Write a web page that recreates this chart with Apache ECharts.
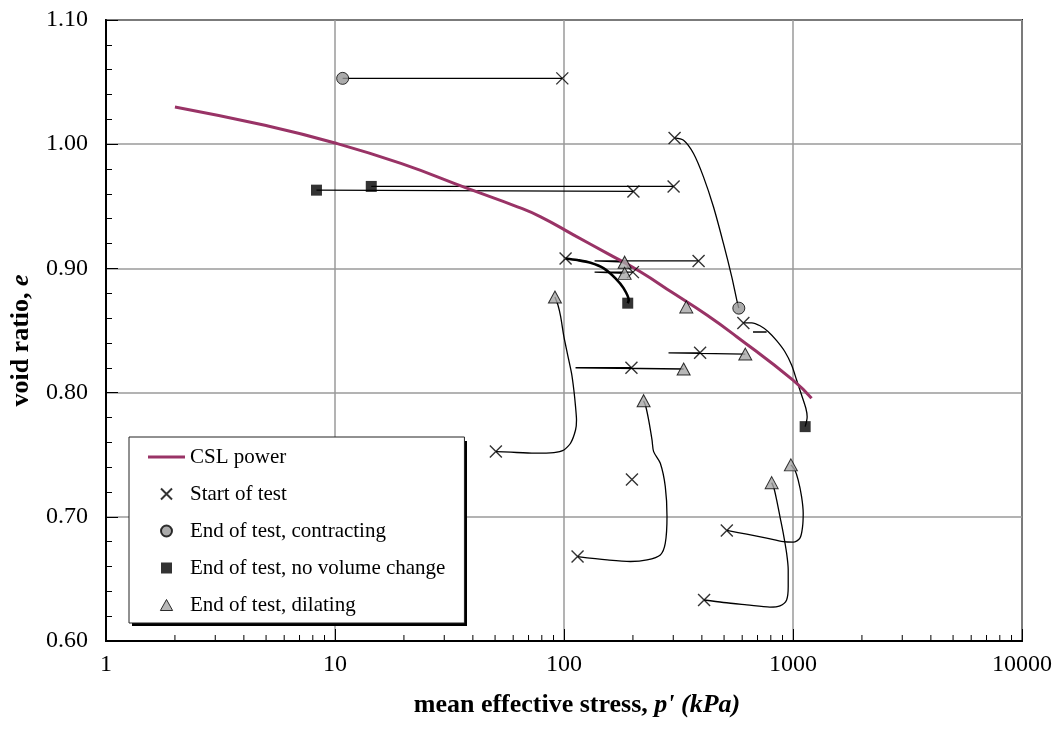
<!DOCTYPE html>
<html>
<head>
<meta charset="utf-8">
<script src="https://cdn.jsdelivr.net/npm/echarts@6/dist/echarts.min.js"></script>
<style>
  html, body { margin: 0; padding: 0; background: #fff; }
  #chart { width: 1058px; height: 736px; }
</style>
</head>
<body>
<div id="chart"></div>
<script>
// Critical state line (power fit): mean effective stress p' (kPa) and void ratio e
const cslP = [2, 5, 10, 19.4, 37.9, 62.6, 79.1, 110.5, 154.5, 215.4, 300.8, 420.6, 568, 1000, 1205];
const cslE = [1.030, 1.015, 1.001, 0.9845, 0.9644, 0.9496, 0.9415, 0.9268, 0.9121, 0.8973, 0.8799, 0.8624, 0.845, 0.810, 0.7954];

// Test start states [p', e]
const startOfTest = [
  [98.3, 1.053], [201, 0.962], [301, 0.966], [304, 1.005], [101.6, 0.908],
  [387, 0.906], [200, 0.897], [607, 0.856], [393, 0.832], [197, 0.820],
  [50.4, 0.7525], [114.6, 0.668], [198, 0.730], [514, 0.689], [409, 0.633]
];
// Test end states [p', e]
const endContracting = [[10.8, 1.053], [580, 0.868]];
const endNoVolumeChange = [[8.3, 0.963], [14.4, 0.966], [189.8, 0.872], [1130, 0.7726]];
const endDilating = [
  [184, 0.905], [184, 0.896], [342, 0.869], [619, 0.831], [333, 0.819],
  [91.3, 0.877], [222.7, 0.7935], [979, 0.7418], [807, 0.7275]
];

// Stress paths, start to end, as [p', e]
const pathA = [[98.3, 1.053], [10.8, 1.053]];
const pathB = [[201, 0.962], [8.3, 0.963]];
const pathC = [[301, 0.966], [14.4, 0.966]];
const pathD = [[303.9, 1.0051], [332.7, 1.0032], [367.8, 0.9925], [406.5, 0.9737], [449.4, 0.9496],
  [496.8, 0.9201], [540.3, 0.8932], [568.2, 0.8745], [580, 0.868]];
const pathE = [[101.6, 0.908], [114.3, 0.9067], [130.6, 0.9045], [149.2, 0.9000], [167.8, 0.8920],
  [182.3, 0.8839], [191.7, 0.8745], [189.8, 0.872]];
const pathF = [[387, 0.906], [136, 0.906], [184, 0.905]];
const pathG = [[200, 0.897], [136, 0.897], [184, 0.896]];
const pathH = [[607.1, 0.8562], [660.5, 0.8562], [717.8, 0.8538], [779.8, 0.8490], [848.3, 0.8418],
  [922, 0.8329], [985.9, 0.8222], [1037, 0.8101], [1090, 0.7981], [1138, 0.7874], [1153, 0.7806], [1130, 0.7726]];
const pathHHook = [[669, 0.8488], [767, 0.8488]];
const pathI = [[393, 0.832], [286, 0.832], [619, 0.831]];
const pathJ = [[197, 0.820], [112.3, 0.820], [333, 0.819]];
const pathK = [[50.4, 0.7525], [58.6, 0.7520], [74, 0.7512], [90.4, 0.7517], [99.9, 0.7538], [106.8, 0.7592],
  [112.3, 0.7699], [113.4, 0.7780], [112.3, 0.7887], [110.4, 0.8021], [107.9, 0.8155], [103.4, 0.8316],
  [99.9, 0.8450], [96.7, 0.8611], [94.1, 0.8705], [91.3, 0.877]];
const pathL = [[114.6, 0.668], [154.3, 0.6653], [195, 0.6640], [230.5, 0.6653], [263.4, 0.6693], [276.9, 0.6788],
  [281.7, 0.7002], [276.9, 0.7243], [263.4, 0.7431], [246.3, 0.7525], [242.3, 0.7619], [234.2, 0.7780],
  [227.3, 0.7892], [222.7, 0.7935]];
const pathM = [[514, 0.689], [628.1, 0.6860], [767.5, 0.6828], [906.6, 0.6800], [1002, 0.6796], [1072, 0.6828],
  [1101, 0.6921], [1108, 0.7029], [1090, 0.7163], [1053, 0.7297], [1019, 0.7377], [979, 0.7418]];
const pathN = [[409, 0.633], [496.8, 0.6310], [628.1, 0.6291], [793.3, 0.6273], [877, 0.6283], [937.8, 0.6331],
  [953, 0.6438], [953, 0.6573], [937.8, 0.6707], [906.6, 0.6868], [877, 0.7002], [848.3, 0.7136],
  [825.8, 0.7230], [807, 0.7275]];

// Log-axis minor tick positions
const xMinorTicks = [2, 3, 4, 5, 6, 7, 8, 9, 20, 30, 40, 50, 60, 70, 80, 90,
  200, 300, 400, 500, 600, 700, 800, 900, 2000, 3000, 4000, 5000, 6000, 7000, 8000, 9000];

const SERIF = "'Liberation Serif', 'Times New Roman', serif";

function pathSeries(data, smooth, width) {
  return {
    type: 'line', data: data, smooth: smooth, symbol: 'none', silent: true, z: 2,
    lineStyle: { color: '#000', width: width || 1.3 }
  };
}

function titleStyle(padding) {
  return {
    fontFamily: SERIF, fontSize: 26, fontWeight: 'bold', color: '#000', padding: padding,
    rich: { i: { fontFamily: SERIF, fontSize: 26, fontWeight: 'bold', fontStyle: 'italic', color: '#000' } }
  };
}

const chart = echarts.init(document.getElementById('chart'), null, { renderer: 'canvas' });

chart.setOption({
  animation: false,
  backgroundColor: '#fff',
  grid: {
    left: 104, right: 36, top: 20, bottom: 95,
    show: true, borderColor: '#222', borderWidth: 2, backgroundColor: '#fff'
  },
  // drop shadow behind the legend box
  graphic: [{
    type: 'rect', left: 132, top: 441, z: 3, silent: true,
    shape: { width: 335, height: 185 },
    style: { fill: '#000' }
  }],
  xAxis: {
    type: 'log', logBase: 10, min: 1, max: 10000,
    axisLine: { show: true, onZero: false, lineStyle: { color: '#000', width: 2 } },
    axisTick: { show: true, inside: true, length: 12, lineStyle: { color: '#000', width: 1 } },
    axisLabel: { fontFamily: SERIF, fontSize: 24, color: '#000', margin: 12, formatter: v => String(v) },
    splitLine: { show: true, lineStyle: { color: '#9a9a9a', width: 1.5 } },
    name: "mean effective stress, {i|p' (kPa)}",
    nameLocation: 'middle', nameGap: 51,
    nameTextStyle: titleStyle([0, 0, 0, 26])
  },
  yAxis: {
    type: 'value', min: 0.6, max: 1.1, interval: 0.1,
    axisLine: { show: true, onZero: false, lineStyle: { color: '#000', width: 2 } },
    axisTick: { show: true, inside: true, length: 12, lineStyle: { color: '#000', width: 1 } },
    minorTick: { show: true, splitNumber: 5, length: 6, lineStyle: { color: '#000', width: 1 } },
    axisLabel: {
      fontFamily: SERIF, fontSize: 24, color: '#000', margin: 18,
      formatter: v => v.toFixed(2)
    },
    splitLine: { show: true, lineStyle: { color: '#9a9a9a', width: 1.5 } },
    name: 'void ratio, {i|e}',
    nameLocation: 'middle', nameRotate: 90, nameGap: 72,
    nameTextStyle: titleStyle([0, 20, 0, 0])
  },
  legend: {
    orient: 'vertical', left: 129, top: 437, z: 4,
    data: [
      { name: 'CSL power', icon: 'path://M0,0H37V3H0Z', itemStyle: { color: '#993366' } },
      { name: 'Start of test' },
      { name: 'End of test, contracting' },
      { name: 'End of test, no volume change', icon: 'path://M0,0H10V10H0Z', itemStyle: { color: '#000' } },
      { name: 'End of test, dilating', icon: 'path://M5,0L10,9L0,9Z', itemStyle: { color: '#a6a6a6', borderColor: '#000', borderWidth: 1 } }
    ],
    itemWidth: 37, itemHeight: 11, itemGap: 13,
    padding: [8, 19, 6, 19],
    backgroundColor: '#fff', borderColor: '#222', borderWidth: 1,
    selectedMode: false,
    textStyle: { fontFamily: SERIF, fontSize: 21, color: '#000', lineHeight: 24 }
  },
  series: [
    pathSeries(pathA, false), pathSeries(pathB, false), pathSeries(pathC, false),
    pathSeries(pathD, 0.3), pathSeries(pathE, 0.3, 2.6), pathSeries(pathF, false),
    pathSeries(pathG, false), pathSeries(pathH, 0.3), pathSeries(pathHHook, false),
    pathSeries(pathI, false), pathSeries(pathJ, false), pathSeries(pathK, 0.2),
    pathSeries(pathL, 0.3), pathSeries(pathM, 0.3), pathSeries(pathN, 0.3),
    {
      name: 'CSL power', type: 'line', smooth: true, symbol: 'none', z: 3,
      data: cslP.map((p, i) => [p, cslE[i]]),
      lineStyle: { color: '#993366', width: 3 },
      itemStyle: { color: '#993366' }
    },
    {
      name: 'Start of test', type: 'scatter', z: 4,
      symbol: 'path://M0,0L10,10M10,0L0,10', symbolSize: 12,
      data: startOfTest,
      itemStyle: { color: 'transparent', borderColor: '#000', borderWidth: 1.4 }
    },
    {
      name: 'End of test, contracting', type: 'scatter', z: 4,
      symbol: 'circle', symbolSize: 12,
      data: endContracting,
      itemStyle: { color: '#969696', borderColor: '#000', borderWidth: 1 }
    },
    {
      name: 'End of test, no volume change', type: 'scatter', z: 4,
      symbol: 'rect', symbolSize: 11,
      data: endNoVolumeChange,
      itemStyle: { color: '#000', borderColor: '#000', borderWidth: 0 }
    },
    {
      name: 'End of test, dilating', type: 'scatter', z: 4,
      symbol: 'triangle', symbolSize: [13, 12],
      data: endDilating,
      itemStyle: { color: '#a6a6a6', borderColor: '#000', borderWidth: 1 }
    },
    {
      // minor ticks on the log stress axis, pointing into the plot
      type: 'custom', silent: true, z: 6, clip: false,
      data: xMinorTicks.map(v => [v, 0.6]),
      renderItem: (params, api) => {
        const pt = api.coord([api.value(0), api.value(1)]);
        return {
          type: 'line',
          shape: { x1: pt[0], y1: pt[1], x2: pt[0], y2: pt[1] - 6 },
          style: { stroke: '#000', lineWidth: 1 }
        };
      }
    }
  ]
});
</script>
</body>
</html>
